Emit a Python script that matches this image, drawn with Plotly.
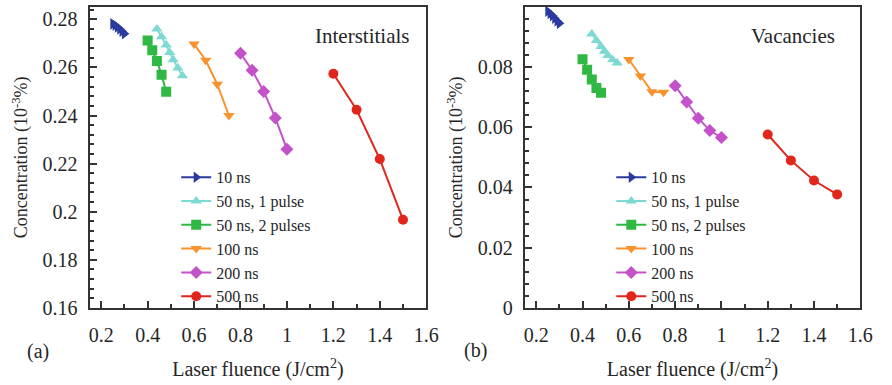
import plotly.graph_objects as go

# ---------------- data ----------------
names = ["10 ns", "50 ns, 1 pulse", "50 ns, 2 pulses", "100 ns", "200 ns", "500 ns"]
colors = ["#2b3a9e", "#7fd9d3", "#2fb843", "#f8922c", "#c352c9", "#e1261c"]
symbols = ["triangle-right", "triangle-up", "square", "triangle-down", "diamond", "circle"]

x_10 = [0.25, 0.26, 0.27, 0.28, 0.29, 0.30]
x_50a = [0.44, 0.46, 0.48, 0.495, 0.51, 0.53, 0.55]
x_50b = [0.40, 0.42, 0.44, 0.46, 0.48]
x_100 = [0.60, 0.65, 0.70, 0.75]
x_200 = [0.80, 0.85, 0.90, 0.95, 1.00]
x_500 = [1.20, 1.30, 1.40, 1.50]

int_10 = [0.2781, 0.2775, 0.2768, 0.2760, 0.2750, 0.2740]
int_50a = [0.2760, 0.2727, 0.2693, 0.2662, 0.2632, 0.2598, 0.2565]
int_50b = [0.2712, 0.2671, 0.2627, 0.2569, 0.2499]
int_100 = [0.2697, 0.2630, 0.2530, 0.2400]
int_200 = [0.2659, 0.2588, 0.2500, 0.2390, 0.2260]
int_500 = [0.2574, 0.2424, 0.2219, 0.1967]

vac_10 = [0.0985, 0.0978, 0.0970, 0.0962, 0.0953, 0.0945]
vac_50a = [0.0910, 0.0888, 0.0868, 0.0852, 0.0838, 0.0824, 0.0813]
vac_50b = [0.0826, 0.0791, 0.0759, 0.0730, 0.0715]
vac_100 = [0.0825, 0.0770, 0.0718, 0.0716]
vac_200 = [0.0738, 0.0684, 0.0630, 0.0589, 0.0566]
vac_500 = [0.0576, 0.0490, 0.0423, 0.0377]

xs = [x_10, x_50a, x_50b, x_100, x_200, x_500]
ints = [int_10, int_50a, int_50b, int_100, int_200, int_500]
vacs = [vac_10, vac_50a, vac_50b, vac_100, vac_200, vac_500]

x_ticks = [0.2, 0.4, 0.6, 0.8, 1.0, 1.2, 1.4, 1.6]
x_ticklabels = ["0.2", "0.4", "0.6", "0.8", "1", "1.2", "1.4", "1.6"]
int_ticks = [0.16, 0.18, 0.20, 0.22, 0.24, 0.26, 0.28]
int_ticklabels = ["0.16", "0.18", "0.2", "0.22", "0.24", "0.26", "0.28"]
vac_ticks = [0.0, 0.02, 0.04, 0.06, 0.08, 0.10]
vac_ticklabels = ["0", "0.02", "0.04", "0.06", "0.08", "0.1"]

FONT = "Liberation Serif, Times New Roman, DejaVu Serif, serif"
TXT = "#262626"

fig = go.Figure()
for i in range(6):
    fig.add_trace(go.Scatter(
        x=xs[i], y=ints[i], mode="lines+markers", name=names[i],
        line=dict(color=colors[i], width=2),
        marker=dict(symbol=symbols[i], size=10, color=colors[i]),
        xaxis="x", yaxis="y", legend="legend"))
for i in range(6):
    fig.add_trace(go.Scatter(
        x=xs[i], y=vacs[i], mode="lines+markers", name=names[i],
        line=dict(color=colors[i], width=2),
        marker=dict(symbol=symbols[i], size=10, color=colors[i]),
        xaxis="x2", yaxis="y2", legend="legend2"))

axis_common = dict(
    showline=True, linecolor="#333", linewidth=2, mirror=True,
    ticks="inside", ticklen=7, tickwidth=1.5, tickcolor="#333",
    showgrid=False, zeroline=False,
    tickfont=dict(family=FONT, size=20, color=TXT),
)
xminor = dict(dtick=0.1, tick0=0, ticks="inside", ticklen=4, tickcolor="#333")
yminor = dict(dtick=0.004, tick0=0, ticks="inside", ticklen=4, tickcolor="#333")
xtitle_font = dict(family=FONT, size=20, color=TXT)
ytitle_font = dict(family=FONT, size=18, color=TXT)

ydom = [1 - 317 / 385, 1 - 7 / 385]

fig.update_layout(
    width=892, height=385,
    margin=dict(l=0, r=0, t=0, b=0),
    paper_bgcolor="white", plot_bgcolor="white",
    font=dict(family=FONT, color=TXT),
    xaxis=dict(domain=[90 / 892, 432 / 892], range=[0.15, 1.6],
               tickvals=x_ticks, ticktext=x_ticklabels, minor=xminor, ticklabelstandoff=8,
               title=dict(text="Laser fluence (J/cm<sup>2</sup>)", font=xtitle_font, standoff=17),
               anchor="y", **axis_common),
    yaxis=dict(domain=ydom, range=[0.16, 0.2852],
               tickvals=int_ticks, ticktext=int_ticklabels, ticklabelstandoff=6, minor=yminor,
               title=dict(text="Concentration (10<sup>-3</sup>%)", font=ytitle_font, standoff=10),
               anchor="x", **axis_common),
    xaxis2=dict(domain=[532 / 892, 873 / 892], range=[0.15, 1.6],
                tickvals=x_ticks, ticktext=x_ticklabels, minor=xminor, ticklabelstandoff=8,
                title=dict(text="Laser fluence (J/cm<sup>2</sup>)", font=xtitle_font, standoff=17),
                anchor="y2", **axis_common),
    yaxis2=dict(domain=ydom, range=[0, 0.1],
                tickvals=vac_ticks, ticktext=vac_ticklabels, ticklabelstandoff=6, minor=yminor,
                title=dict(text="Concentration (10<sup>-3</sup>%)", font=ytitle_font, standoff=10),
                anchor="x2", **axis_common),
    legend=dict(x=178 / 892, y=1 - 165 / 385, xanchor="left", yanchor="top",
                bgcolor="rgba(0,0,0,0)", font=dict(family=FONT, size=16, color=TXT),
                tracegroupgap=0, itemwidth=30),
    legend2=dict(x=620 / 892, y=1 - 165 / 385, xanchor="left", yanchor="top",
                 bgcolor="rgba(0,0,0,0)", font=dict(family=FONT, size=16, color=TXT),
                 tracegroupgap=0, itemwidth=30),
    showlegend=True,
    annotations=[
        dict(text="Interstitials", x=417 / 892, y=1 - 37 / 385, xref="paper", yref="paper",
             xanchor="right", yanchor="middle", showarrow=False,
             font=dict(family=FONT, size=21, color=TXT)),
        dict(text="Vacancies", x=849 / 892, y=1 - 37 / 385, xref="paper", yref="paper",
             xanchor="right", yanchor="middle", showarrow=False,
             font=dict(family=FONT, size=21, color=TXT)),
        dict(text="(a)", x=38 / 892, y=1 - 362 / 385, xref="paper", yref="paper",
             xanchor="center", yanchor="middle", showarrow=False,
             font=dict(family=FONT, size=20, color=TXT)),
        dict(text="(b)", x=482 / 892, y=1 - 361 / 385, xref="paper", yref="paper",
             xanchor="center", yanchor="middle", showarrow=False,
             font=dict(family=FONT, size=20, color=TXT)),
    ],
)

fig.write_html("out.html")
